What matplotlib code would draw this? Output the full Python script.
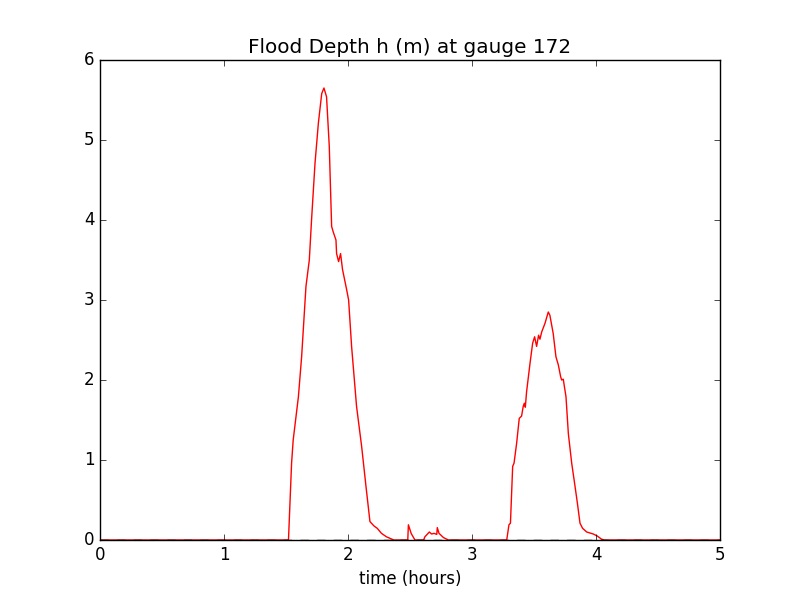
import matplotlib
matplotlib.use("Agg")
import matplotlib.pyplot as plt

# gauge 172 depth
t = [0.0, 1.52, 1.545, 1.558, 1.6, 1.626, 1.661, 1.688, 1.706, 1.734, 1.761, 1.788,
     1.806, 1.827, 1.849, 1.868, 1.881, 1.903, 1.908, 1.924, 1.94, 1.956, 1.989,
     2.005, 2.029, 2.069, 2.11, 2.145, 2.177, 2.21, 2.236, 2.27, 2.31, 2.34, 2.37,
     2.482, 2.487, 2.51, 2.54, 2.61, 2.62, 2.656, 2.674, 2.694, 2.716, 2.72, 2.734,
     2.77, 2.81, 3.28, 3.298, 3.31, 3.328, 3.339, 3.36, 3.381, 3.40, 3.413, 3.422,
     3.43, 3.44, 3.468, 3.489, 3.505, 3.521, 3.537, 3.548, 3.562, 3.589, 3.615,
     3.628, 3.655, 3.677, 3.696, 3.715, 3.723, 3.736, 3.758, 3.777, 3.804, 3.831,
     3.85, 3.871, 3.892, 3.925, 3.978, 4.01, 4.045, 4.07, 5.0]
h = [0.0, 0.0, 0.96, 1.25, 1.79, 2.29, 3.17, 3.5, 4.0, 4.71, 5.21, 5.58,
     5.65, 5.54, 4.92, 3.92, 3.85, 3.75, 3.58, 3.48, 3.58, 3.38, 3.13,
     3.0, 2.42, 1.67, 1.17, 0.67, 0.23, 0.175, 0.146, 0.083, 0.04, 0.02, 0.0,
     0.0, 0.19, 0.08, 0.0, 0.0, 0.04, 0.10, 0.075, 0.083, 0.07, 0.155, 0.083,
     0.03, 0.0, 0.0, 0.19, 0.21, 0.92, 0.96, 1.21, 1.52, 1.55, 1.67, 1.71,
     1.66, 1.85, 2.21, 2.46, 2.54, 2.42, 2.56, 2.51, 2.60, 2.71, 2.85,
     2.81, 2.58, 2.29, 2.19, 2.04, 2.0, 2.01, 1.79, 1.33, 0.96, 0.67,
     0.46, 0.21, 0.146, 0.10, 0.075, 0.05, 0.01, 0.0, 0.0]

plt.style.use('classic')
fig = plt.figure(figsize=(8, 6), dpi=100, facecolor='white')
ax = fig.add_subplot(111)
ax.plot(t, h, 'r-')
ax.plot([0, 5], [0, 0], 'k--')
ax.set_xlim(0, 5)
ax.set_ylim(0, 6)
ax.set_title('Flood Depth h (m) at gauge 172')
ax.set_xlabel('time (hours)')
fig.savefig('out.png', dpi=100, facecolor='white')
